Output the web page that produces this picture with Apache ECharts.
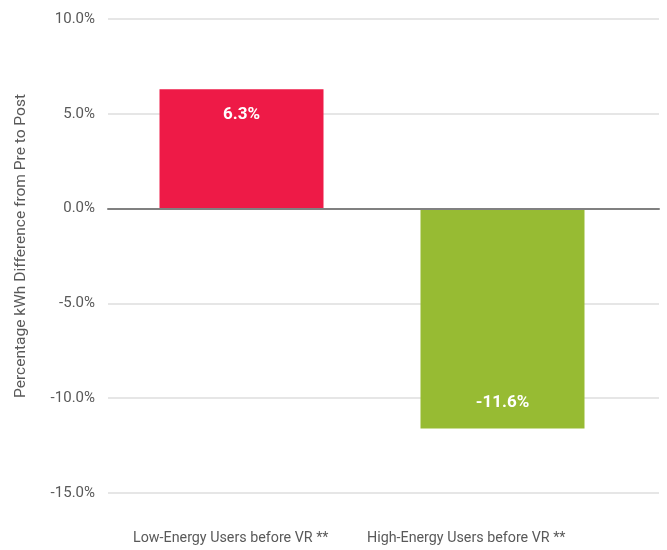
<!DOCTYPE html>
<html>
<head>
<meta charset="utf-8">
<script src="https://cdn.jsdelivr.net/npm/echarts@6/dist/echarts.min.js"></script>
<style>
  html, body { margin: 0; padding: 0; background: #fff; }
  #chart { width: 667px; height: 550px; }
</style>
</head>
<body>
<div id="chart"></div>
<script>
// Change in kWh use from pre to post period, by user group
const categories = ['Low-Energy Users before VR **', 'High-Energy Users before VR **'];
const pctDiff = [6.3, -11.6];
const barColors = ['#EE1A47', '#97BB33'];
const yMin = -15, yMax = 10, yStep = 5;
const yTitle = 'Percentage kWh Difference from Pre to Post';

const FONT = "'Roboto', sans-serif";
const TEXT = '#595959';

const chart = echarts.init(document.getElementById('chart'), null, { renderer: 'canvas' });

const sharedY = { type: 'value', min: yMin, max: yMax, interval: yStep };

chart.setOption({
  animation: false,
  grid: [
    // frame: tick labels, gridlines, zero line
    { left: 108, right: 8, top: 19, bottom: 57 },
    // bars
    { left: 111, width: 522, top: 19, bottom: 57 },
    // category labels
    { left: 113, width: 471, top: 19, bottom: 57 }
  ],
  xAxis: [
    {
      gridIndex: 0, type: 'category', data: categories, z: 5,
      axisLine: { show: true, onZero: true, lineStyle: { color: '#808080', width: 2 } },
      axisTick: { show: false }, axisLabel: { show: false }, splitLine: { show: false }
    },
    {
      gridIndex: 1, type: 'category', data: categories,
      axisLine: { show: false }, axisTick: { show: false }, axisLabel: { show: false }
    },
    {
      gridIndex: 2, type: 'category', data: categories, position: 'bottom',
      axisLine: { show: false, onZero: false }, axisTick: { show: false },
      axisLabel: { interval: 0, color: TEXT, fontFamily: FONT, fontSize: 14.3, margin: 38 }
    }
  ],
  yAxis: [
    Object.assign({}, sharedY, {
      gridIndex: 0,
      axisLine: { show: false }, axisTick: { show: false },
      axisLabel: {
        color: TEXT, fontFamily: FONT, fontSize: 15, margin: 13,
        formatter: v => v.toFixed(1) + '%'
      },
      splitLine: { lineStyle: { color: '#E6E6E6', width: 2 } }
    }),
    Object.assign({}, sharedY, {
      gridIndex: 1, show: false, splitLine: { show: false }
    }),
    Object.assign({}, sharedY, {
      gridIndex: 2, show: false, splitLine: { show: false }
    })
  ],
  graphic: [{
    type: 'text',
    x: 21, y: 246,
    rotation: Math.PI / 2,
    style: {
      text: yTitle, fill: TEXT, font: '15.5px ' + FONT,
      align: 'center', verticalAlign: 'middle'
    }
  }],
  series: [{
    type: 'bar',
    xAxisIndex: 1, yAxisIndex: 1,
    barWidth: 164,
    data: pctDiff.map((v, i) => ({
      value: v,
      itemStyle: { color: barColors[i] },
      label: { position: v >= 0 ? 'insideTop' : 'insideBottom' }
    })),
    label: {
      show: true, distance: 17,
      color: '#fff', fontFamily: FONT, fontWeight: 'bold', fontSize: 17,
      formatter: p => p.value.toFixed(1) + '%'
    }
  }]
});
</script>
</body>
</html>
